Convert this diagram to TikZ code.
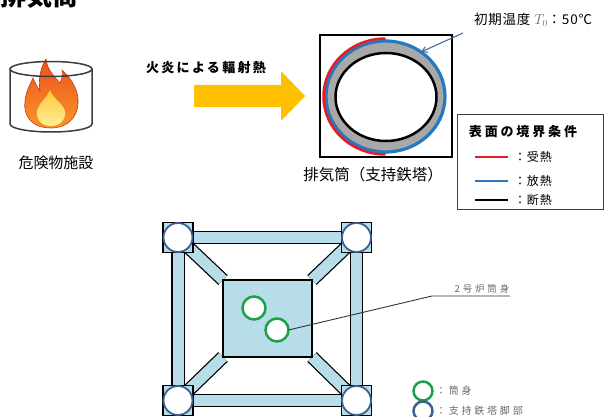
\documentclass[tikz,border=0pt]{standalone}
\usepackage{fontspec}
\newfontfamily\jp{Noto Sans CJK JP}
\usetikzlibrary{arrows.meta,backgrounds}

\definecolor{barblue}{RGB}{183,222,232}
\definecolor{footblue}{RGB}{62,95,145}
\definecolor{ringblue}{RGB}{40,120,190}
\definecolor{heatred}{RGB}{232,28,36}
\definecolor{tubegreen}{RGB}{28,160,72}
\definecolor{arrowgold}{RGB}{255,192,0}
\definecolor{ringgrey}{RGB}{168,168,168}
\definecolor{notegrey}{RGB}{105,105,105}
\definecolor{pointerblue}{RGB}{80,105,150}
\definecolor{glassgrey}{RGB}{60,60,60}
\definecolor{flamered}{RGB}{238,80,30}
\definecolor{flameorange}{RGB}{250,150,40}
\definecolor{flameyellow}{RGB}{255,200,60}
\definecolor{flamepale}{RGB}{255,238,150}

\begin{document}
\begin{tikzpicture}[x=1pt,y=-1pt,
  every node/.style={inner sep=0pt, outer sep=0pt},
  bar outline/.style={line width=13.5pt},
  bar fill/.style={barblue, line width=11pt},
  foot/.style={draw, line width=1.2pt, fill=barblue, minimum width=30pt, minimum height=30pt},
  foot ring/.style={circle, draw=footblue, line width=1.8pt, fill=white, minimum size=29pt},
  tube/.style={circle, draw=tubegreen, line width=2.5pt, fill=white, minimum size=23pt},
  keytext/.style={anchor=west, text=notegrey, font=\jp\fontsize{10}{12}\selectfont\addfontfeature{LetterSpace=28}},
  legline/.style={line width=2.6pt},
  legtext/.style={anchor=west, font=\jp\fontsize{12}{14}\selectfont\addfontfeature{LetterSpace=8}}
]
\useasboundingbox (0,0) rectangle (611,417);
\clip (0,0) rectangle (611,417);

% heading
\node[anchor=base west, font=\jp\bfseries\fontsize{26}{28}\selectfont] (heading) at (1,6) {排気筒};

% fire in a glass cylinder
\shade[top color=flamered, bottom color=flameorange, draw=flamered!80!black, line width=0.6pt]
  (51,128) .. controls (31,128) and (23,115) .. (25,101)
  .. controls (26,91) and (30,85) .. (33,78)
  .. controls (36,85) and (38,88) .. (40,91)
  .. controls (38,78) and (41,67) .. (46,59)
  .. controls (47,70) and (55,77) .. (60,83)
  .. controls (62,79) and (63,75) .. (62,70)
  .. controls (73,80) and (79,92) .. (78,104)
  .. controls (77,118) and (67,128) .. (51,128) -- cycle;
\shade[top color=flameyellow, bottom color=flamepale]
  (51,126) .. controls (41,126) and (36,119) .. (37,111)
  .. controls (39,103) and (46,99) .. (50,90)
  .. controls (53,99) and (64,104) .. (65,112)
  .. controls (66,120) and (60,126) .. (51,126) -- cycle;
\draw[glassgrey, line width=1.5pt] (51,69) ellipse[x radius=41, y radius=7.5];
\draw[glassgrey, line width=1.5pt] (10,69) -- (10,124)
  arc[start angle=180, end angle=0, x radius=41, y radius=8] -- (92,69);
\node[font=\jp\fontsize{15}{17}\selectfont] (facility) at (56,163) {危険物施設};

% radiant heat
\node[font=\jp\bfseries\fontsize{13}{15}\selectfont\addfontfeature{LetterSpace=18}] (radiation) at (206,68) {火炎による輻射熱};
\fill[arrowgold] (194,85) -- (281,85) -- (281,71) -- (305,96) -- (281,121) -- (281,107) -- (194,107) -- cycle;

% stack cross-section
\node[draw, line width=2.6pt, minimum width=132pt, minimum height=122pt] (stackbox) at (386,96) {};
\fill[ringgrey] (385.5,96.5) ellipse[x radius=60, y radius=56];
\draw[ringblue, line width=3.2pt] (385.5,96.5) ellipse[x radius=59.5, y radius=55.5];
\draw[heatred, line width=2.5pt] (385.5,38.5) arc[start angle=-90, end angle=-270, x radius=62, y radius=58];
\draw[line width=2.5pt, fill=white] (386,97) ellipse[x radius=50.5, y radius=44];
\node[font=\jp\fontsize{15.5}{17}\selectfont] (stacklabel) at (373,175) {排気筒（支持鉄塔）};

% initial temperature note
\node[anchor=west, font=\jp\fontsize{13.5}{15}\selectfont\addfontfeature{LetterSpace=6}] (initemp) at (474,20)
  {初期温度 \textcolor{notegrey}{$T_0$}：50℃};
\coordinate (ptrtail) at (463,33);
\coordinate (ptrhead) at (421,52);
\draw[pointerblue, line width=1.1pt, -{Straight Barb[length=5pt,width=6pt]}] (ptrtail) -- (ptrhead);

% boundary condition legend
\node[draw=black!75, line width=1pt, minimum width=146pt, minimum height=95pt] (bclegend) at (530,162.5) {};
\node[font=\jp\bfseries\fontsize{13}{15}\selectfont\addfontfeature{LetterSpace=22}] (bctitle) at (523,132) {表面の境界条件};
\coordinate (hin-a) at (475,157); \coordinate (hin-b) at (508,157);
\coordinate (hout-a) at (475,181); \coordinate (hout-b) at (508,181);
\coordinate (hins-a) at (475,200); \coordinate (hins-b) at (508,200);
\draw[legline, heatred] (hin-a) -- (hin-b);
\draw[legline, ringblue] (hout-a) -- (hout-b);
\draw[legline, black] (hins-a) -- (hins-b);
\node[legtext] (hintext) at (514,157) {：受熱};
\node[legtext] (houttext) at (514,181) {：放熱};
\node[legtext] (hinstext) at (514,200) {：断熱};

% tower plan
\coordinate (ctl) at (178,237.5);
\coordinate (ctr) at (356.5,237.5);
\coordinate (cbl) at (178,400.5);
\coordinate (cbr) at (356.5,400.5);
\node[draw, line width=1.3pt, fill=barblue, minimum width=89pt, minimum height=77pt] (core) at (267.5,318.5) {};
\begin{scope}[on background layer]
  \foreach \a/\b in {ctl/ctr, cbl/cbr, ctl/cbl, ctr/cbr, ctl/core.north west, ctr/core.north east, cbl/core.south west, cbr/core.south east}
    \draw[bar outline] (\a) -- (\b);
  \foreach \a/\b in {ctl/ctr, cbl/cbr, ctl/cbl, ctr/cbr, ctl/core.north west, ctr/core.north east, cbl/core.south west, cbr/core.south east}
    \draw[bar fill] (\a) -- (\b);
\end{scope}
\foreach \c in {ctl,ctr,cbl,cbr} {
  \node[foot] (\c-sq) at (\c) {};
  \node[foot ring] (\c-ring) at (\c) {};
}
\node[tube] (tube1) at (254,308) {};
\node[tube] (tube2) at (277,330) {};

% leader to the No.2 stack
\coordinate (leadbend) at (432,296);
\coordinate (leadend) at (510,296);
\draw[black!80, line width=0.9pt] (tube2.east) -- (leadbend) -- (leadend);
\node[text=notegrey, font=\jp\fontsize{9.5}{11}\selectfont\addfontfeature{LetterSpace=30}] (stack2) at (482,289) {2号炉筒身};

% plan key
\node[tube, minimum size=19pt] (keytube) at (423,391) {};
\node[foot ring, minimum size=19pt, line width=2.5pt] (keyfoot) at (423,411) {};
\node[keytext] (keytubetext) at (436,391) {：筒身};
\node[keytext] (keyfoottext) at (436,411) {：支持鉄塔脚部};
\end{tikzpicture}
\end{document}
